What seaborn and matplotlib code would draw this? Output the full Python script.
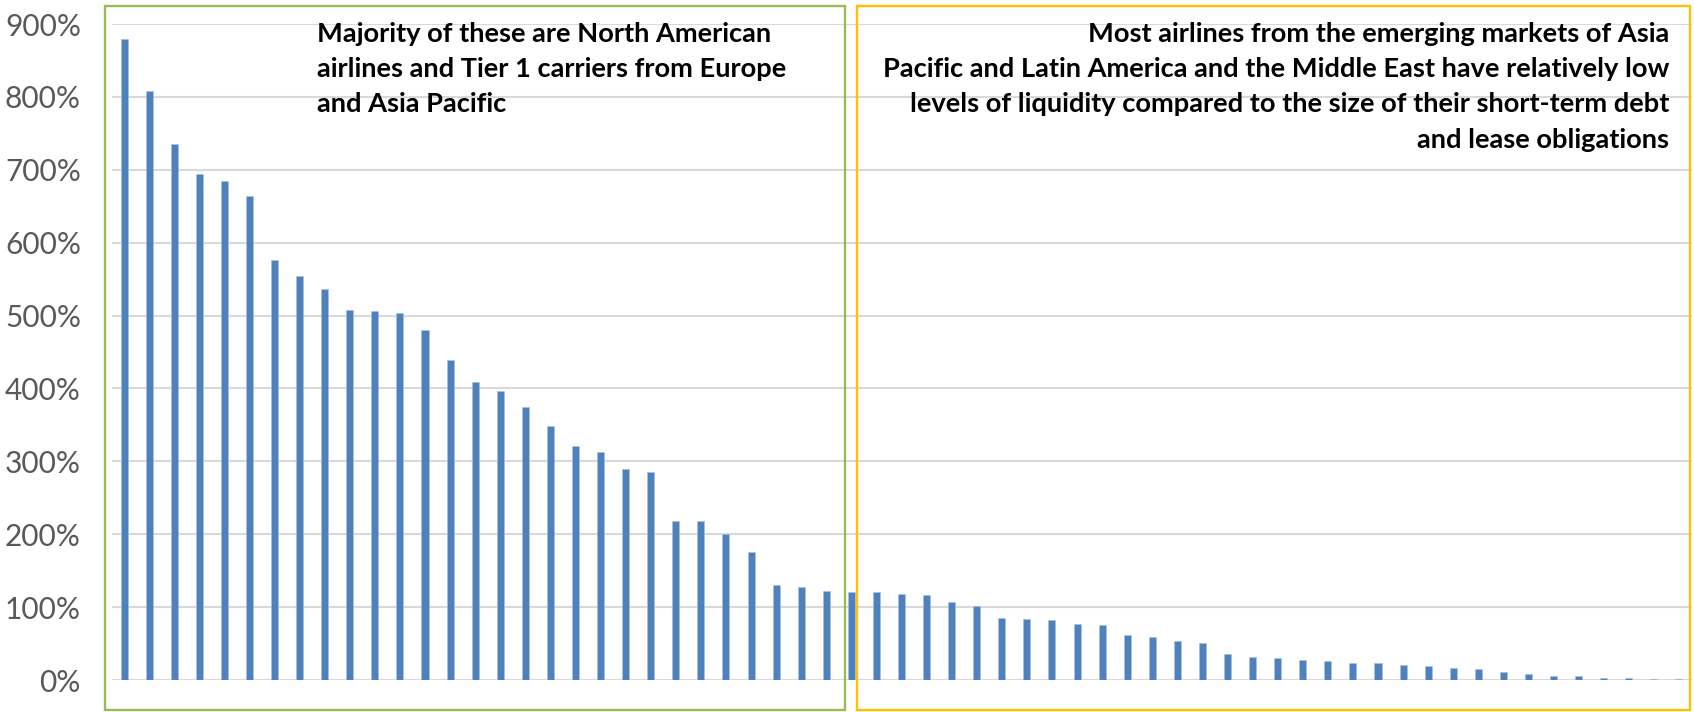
import matplotlib
matplotlib.use("Agg")
import matplotlib.pyplot as plt
import matplotlib.ticker as mticker
from matplotlib.patches import Rectangle
import seaborn as sns
import pandas as pd

# ---- data (liquidity ratio per airline, sorted) ----
airline_index = list(range(1, 64))
liquidity_pct = [879, 808, 735, 694, 685, 664, 576, 554, 537, 507,
                 506, 503, 480, 439, 409, 397, 374, 348, 321, 313,
                 289, 285, 218, 218, 200, 176, 130, 127, 122, 121,
                 121, 118, 116, 107, 101, 85, 84, 82, 77, 76,
                 62, 59, 54, 51, 36, 32, 30, 28, 26, 24,
                 23, 21, 19, 16, 15, 11, 8, 5, 5, 3,
                 3, 2, 1]
y_ticks_pct = [0, 100, 200, 300, 400, 500, 600, 700, 800, 900]

left_note = ["Majority of these are North American",
             "airlines and Tier 1 carriers from Europe",
             "and Asia Pacific"]
right_note = ["Most airlines from the emerging markets of Asia",
              "Pacific and Latin America and the Middle East have relatively low",
              "levels of liquidity compared to the size of their short-term debt",
              "and lease obligations"]

df = pd.DataFrame({"airline": airline_index, "ratio": [v / 100 for v in liquidity_pct]})

sns.set_theme(style="white")
plt.rcParams["font.family"] = ["Lato", "DejaVu Sans"]

W, H = 1694, 712
fig = plt.figure(figsize=(W / 100, H / 100), dpi=100)
ax = fig.add_axes([111.5 / W, (H - 680) / H, (1691.5 - 111.5) / W, (680 - 24) / H])

sns.barplot(data=df, x="airline", y="ratio", color="#4F81BD", width=0.28,
            saturation=1, ax=ax, edgecolor="#A9C0E0", linewidth=0.4, zorder=3)

ax.set_ylim(0, 9)
ax.set_xlim(-0.5, len(airline_index) - 0.5)
ax.set_yticks([t / 100 for t in y_ticks_pct])
ax.yaxis.set_major_formatter(mticker.FuncFormatter(lambda v, p: f"{v*100:.0f}%"))
ax.set_xticks([])
ax.set_xlabel("")
ax.set_ylabel("")
for s in ax.spines.values():
    s.set_visible(False)
ax.grid(axis="y", color="#D9D9D9", linewidth=1.5, zorder=0)
ax.set_axisbelow(True)
ax.tick_params(axis="y", length=0, pad=22, labelsize=21.5, labelcolor="#595959")
for lab in ax.get_yticklabels():
    lab.set_fontfamily(["Lato", "DejaVu Sans"])

# region boxes (figure pixel coordinates)
def fig_rect(x0, y0, x1, y1, color):
    r = Rectangle((x0 / W, (H - y1) / H), (x1 - x0) / W, (y1 - y0) / H,
                  transform=fig.transFigure, fill=False, edgecolor=color,
                  linewidth=1.7, zorder=5)
    fig.patches.append(r)

fig_rect(105, 6, 845, 710, "#9BBB59")
fig_rect(857, 6, 1690, 710, "#FFC000")

# annotations
for i, line in enumerate(left_note):
    fig.text(317 / W, (H - (42.3 + i * 34.8)) / H, line, ha="left", va="baseline",
             fontsize=19.6, fontweight="bold", color="black")
for i, line in enumerate(right_note):
    fig.text(1669 / W, (H - (41.7 + i * 35.3)) / H, line, ha="right", va="baseline",
             fontsize=19.6, fontweight="bold", color="black")

fig.savefig("out.png", dpi=100)
